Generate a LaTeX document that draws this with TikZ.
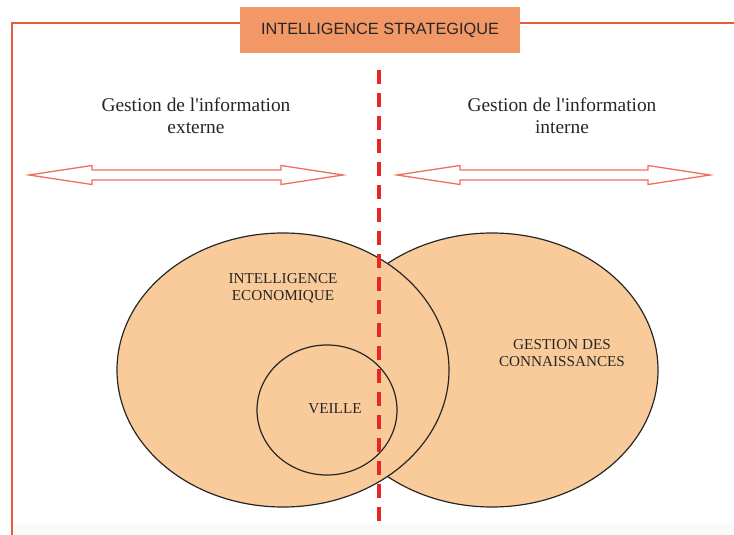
\documentclass[tikz,border=0pt]{standalone}
\usepackage{fontspec}
\setmainfont{Liberation Serif}
\setsansfont{Liberation Sans}
\usepackage{tikz}
\usetikzlibrary{ positioning, % For easy node-relative placements
                 shapes,      % For ellipse and so
               }

\definecolor{framered}{RGB}{234,88,62}
\definecolor{cutred}{RGB}{232,38,38}
\definecolor{arrowred}{RGB}{238,112,92}
\definecolor{titlefill}{RGB}{242,152,102}
\definecolor{setfill}{RGB}{250,203,154}

\tikzset{
  frame/.style={draw=framered, line width=2.4pt},
  title/.style={fill=titlefill, minimum width=280pt, minimum height=46pt,
                font=\sffamily\fontsize{16.3}{19}\selectfont, text=black!85},
  side/.style={align=center, font=\fontsize{19.4}{22}\selectfont, text=black!85},
  bigarrow/.style={draw=arrowred, fill=white, line width=1.3pt, line join=miter},
  set/.style={ellipse, draw=black!85, line width=1.2pt, fill=setfill, inner sep=0pt},
  setlabel/.style={align=center, font=\fontsize{15.2}{17}\selectfont, text=black!85},
  cut/.style={draw=cutred, line width=3.5pt, dash pattern=on 14pt off 9pt},
}

\begin{document}
\begin{tikzpicture}[x=1pt, y=-1pt]
  \useasboundingbox (0,0) rectangle (734,535);
  \fill[black!2] (14,524) rectangle (734,535);

  \coordinate (frame_bot) at (12,535);
  \coordinate (frame_corner) at (12,23);
  \coordinate (frame_right) at (734,23);
  \draw[frame] (frame_bot) -- (frame_corner) -- (frame_right);

  \node[title] (strat) at (380,30) {INTELLIGENCE STRATEGIQUE};

  \node[side] (ext) at (196,116) {Gestion de l\textquotesingle information\\externe};
  \node[side] (int) at (562,116) {Gestion de l\textquotesingle information\\interne};

  % two-way arrows
  \draw[bigarrow] (29,175) -- (92,165.5) -- (92,170) -- (281,170) -- (281,165.5) -- (343,175)
                  -- (281,184.5) -- (281,180) -- (92,180) -- (92,184.5) -- cycle;
  \draw[bigarrow] (397,175) -- (460,165.5) -- (460,170) -- (648,170) -- (648,165.5) -- (710,175)
                  -- (648,184.5) -- (648,180) -- (460,180) -- (460,184.5) -- cycle;

  \node[set, minimum width=332pt, minimum height=274pt] (gc) at (492,370) {};
  \node[set, minimum width=332pt, minimum height=274pt] (ie) at (283,370) {};
  \node[set, minimum width=140pt, minimum height=130pt] (veille) at (327,410) {};

  \node[setlabel] (ie_text) at (283,288) {INTELLIGENCE\\ECONOMIQUE};
  \node[setlabel] (gc_text) at (562,353) {GESTION DES\\CONNAISSANCES};
  \node[setlabel] (veille_text) at (335,409) {VEILLE};

  \coordinate (cut_top) at (379,70);
  \coordinate (cut_bot) at (379,523);
  \draw[cut] (cut_top) -- (cut_bot);
\end{tikzpicture}
\end{document}
